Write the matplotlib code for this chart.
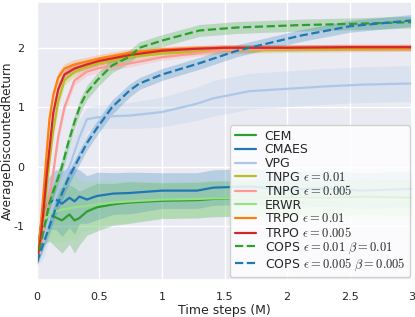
import numpy as np
import matplotlib.pyplot as plt
import seaborn as sns

sns.set_theme(style='darkgrid')
plt.rcParams['font.family'] = ['DejaVu Sans']
plt.rcParams['mathtext.fontset'] = 'cm'
plt.rcParams['axes.unicode_minus'] = False

# time steps (M) at which values were read
t_fast = [0, 0.03, 0.05, 0.08, 0.1, 0.13, 0.17, 0.22, 0.3, 0.4, 0.5, 0.75, 1.0, 1.25, 1.5, 2.0, 2.5, 3.0]
t_slow = [0, 0.05, 0.1, 0.15, 0.2, 0.25, 0.3, 0.35, 0.4, 0.48, 0.6, 0.74, 0.82, 1.0, 1.3, 1.6, 2.1, 2.5, 3.0]
t_low = [0, 0.03, 0.06, 0.1, 0.15, 0.2, 0.26, 0.3, 0.34, 0.4, 0.48, 0.61, 0.74, 1.0, 1.28, 1.41, 1.7, 2.0, 2.3, 2.6, 3.0]

trpo_01 = [-1.6, -1.0, -0.5, 0.3, 0.8, 1.2, 1.5, 1.65, 1.72, 1.77, 1.82, 1.92, 1.97, 1.99, 2.0, 2.0, 2.0, 2.0]
trpo_005 = [-1.6, -1.2, -0.8, -0.1, 0.3, 0.9, 1.3, 1.55, 1.65, 1.72, 1.78, 1.88, 1.95, 1.98, 2.0, 2.0, 2.01, 2.01]
tnpg_01 = [-1.6, -1.25, -0.9, -0.3, 0.1, 0.6, 1.1, 1.45, 1.6, 1.68, 1.74, 1.85, 1.9, 1.93, 1.95, 1.97, 1.98, 1.99]
tnpg_005 = [-1.6, -1.35, -1.1, -0.7, -0.5, -0.1, 0.5, 1.0, 1.45, 1.6, 1.66, 1.74, 1.84, 1.9, 1.96, 1.99, 2.0, 2.0]

cops_g = [-1.6, -1.1, -0.6, -0.3, 0.0, 0.4, 0.75, 1.05, 1.25, 1.45, 1.7, 1.85, 2.0, 2.12, 2.29, 2.34, 2.38, 2.4, 2.43]
cops_b = [-1.6, -1.3, -1.0, -0.7, -0.45, -0.2, 0.0, 0.2, 0.4, 0.65, 1.0, 1.28, 1.4, 1.55, 1.74, 1.95, 2.2, 2.36, 2.46]
vpg = [-1.6, -1.4, -1.2, -0.85, -0.5, -0.2, 0.0, 0.25, 0.5, 0.8, 0.83, 0.85, 0.86, 0.92, 1.06, 1.15, 1.27, 1.31, 1.35, 1.38, 1.40]

cem = [-1.6, -1.2, -0.95, -0.8, -0.85, -0.9, -0.8, -0.9, -0.86, -0.75, -0.68, -0.63, -0.6, -0.57, -0.56, -0.54, -0.53, -0.52, -0.53, -0.5, -0.52]
cmaes = [-1.6, -1.0, -0.7, -0.6, -0.55, -0.62, -0.52, -0.58, -0.5, -0.55, -0.49, -0.45, -0.44, -0.4, -0.40, -0.35, -0.33, -0.38, -0.36, -0.4, -0.37]
erwr = [-1.6, -1.1, -0.9, -0.8, -0.75, -0.72, -0.7, -0.68, -0.67, -0.66, -0.63, -0.6, -0.58, -0.55, -0.54, -0.53, -0.53, -0.54, -0.55, -0.55, -0.56]

# half widths of the shaded bands
sd_fast = [0.05, 0.1, 0.1, 0.12, 0.12, 0.12, 0.1, 0.08, 0.08, 0.07, 0.07, 0.06, 0.05, 0.05, 0.05, 0.05, 0.05, 0.05]
sd_slow = [0.05, 0.1, 0.12, 0.12, 0.12, 0.12, 0.12, 0.12, 0.12, 0.12, 0.12, 0.11, 0.1, 0.1, 0.1, 0.1, 0.1, 0.1, 0.1]
sd_vpg = [0.05, 0.2, 0.3, 0.35, 0.35, 0.35, 0.35, 0.3, 0.3, 0.2, 0.2, 0.2, 0.22, 0.25, 0.28, 0.3, 0.3, 0.3, 0.3, 0.3, 0.3]
sd_low = [0.05, 0.3, 0.35, 0.45, 0.5, 0.55, 0.5, 0.55, 0.45, 0.4, 0.4, 0.35, 0.35, 0.3, 0.3, 0.3, 0.3, 0.3, 0.3, 0.3, 0.3]

series = [
    ('CEM', t_low, cem, sd_low, '#2ca02c', '-'),
    ('CMAES', t_low, cmaes, sd_low, '#1f77b4', '-'),
    ('VPG', t_low, vpg, sd_vpg, '#aec7e8', '-'),
    ('TNPG $\\epsilon = 0.01$', t_fast, tnpg_01, sd_fast, '#bcbd22', '-'),
    ('TNPG $\\epsilon = 0.005$', t_fast, tnpg_005, sd_fast, '#ff9896', '-'),
    ('ERWR', t_low, erwr, sd_low, '#98df8a', '-'),
    ('TRPO $\\epsilon = 0.01$', t_fast, trpo_01, sd_fast, '#ff7f0e', '-'),
    ('TRPO $\\epsilon = 0.005$', t_fast, trpo_005, sd_fast, '#d62728', '-'),
    ('COPS $\\epsilon = 0.01$ $\\beta = 0.01$', t_slow, cops_g, sd_slow, '#2ca02c', '--'),
    ('COPS $\\epsilon = 0.005$ $\\beta = 0.005$', t_slow, cops_b, sd_slow, '#1f77b4', '--'),
]

fig = plt.figure(figsize=(4.15, 3.17), dpi=100)
ax = fig.add_axes([0.089, 0.117, 0.904, 0.877])

for name, t, m, s, c, ls in series:
    t = np.array(t)
    m = np.array(m)
    s = np.array(s)
    ax.fill_between(t, m - s, m + s, color=c, alpha=0.25, linewidth=0)
    ax.plot(t, m, color=c, linestyle=ls, linewidth=1.6, label=name)

ax.set_xlim(0, 3)
ax.set_ylim(-1.9, 2.77)
ax.set_xticks([0, 0.5, 1, 1.5, 2, 2.5, 3])
ax.set_xticklabels(['0', '0.5', '1', '1.5', '2', '2.5', '3'])
ax.set_yticks([-1, 0, 1, 2])
ax.tick_params(labelsize=8, pad=3)
ax.set_xlabel('Time steps (M)', fontsize=9, labelpad=1)
ax.set_ylabel('AverageDiscountedReturn', fontsize=8.7)
ax.yaxis.set_label_coords(-0.061, 0.5)
ax.legend(loc='lower right', fontsize=9, facecolor='white', framealpha=0.85,
          handlelength=1.7, labelspacing=0.05, borderpad=0.35, borderaxespad=0.2,
          handletextpad=0.7)

fig.savefig('out.png', dpi=100)
